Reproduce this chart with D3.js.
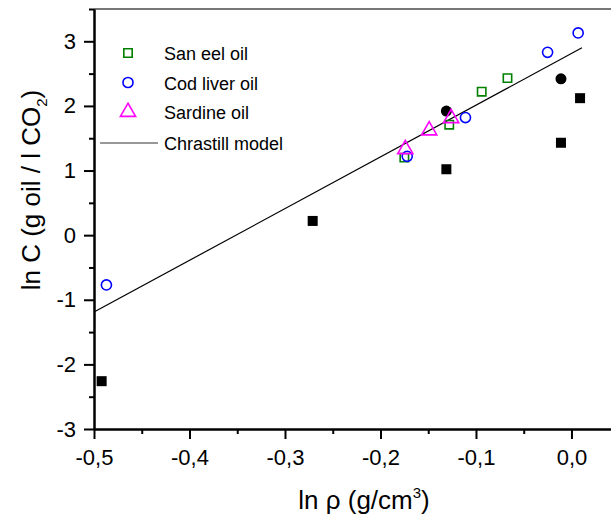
<!DOCTYPE html>
<html>
<head>
<meta charset="utf-8">
<script src="https://cdn.jsdelivr.net/npm/d3@7"></script>
<style>
  body { margin: 0; background: #fff; }
  text { font-family: Arial, "Liberation Sans", sans-serif; }
</style>
</head>
<body>
<div id="chart-area"></div>
<script>
var w = 611;
var h = 522;

// data (ln rho, ln C)
var sanEelX = [-0.175, -0.128, -0.094, -0.067];
var sanEelY = [1.20, 1.71, 2.22, 2.43];
var codX = [-0.487, -0.172, -0.111, -0.025, 0.007];
var codY = [-0.77, 1.22, 1.82, 2.83, 3.13];
var sardineX = [-0.174, -0.149, -0.126];
var sardineY = [1.33, 1.62, 1.81];
var blackSqX = [-0.492, -0.271, -0.131, -0.011, 0.009];
var blackSqY = [-2.26, 0.22, 1.02, 1.43, 2.12];
var blackDotX = [-0.131, -0.011];
var blackDotY = [1.92, 2.42];
var modelX = [-0.5, 0.011];
var modelY = [-1.19, 2.90];

var xTicks = [-0.5, -0.4, -0.3, -0.2, -0.1, 0.0];
var xMinor = [-0.45, -0.35, -0.25, -0.15, -0.05];
var yTicks = [-3, -2, -1, 0, 1, 2, 3];
var yMinor = [-2.5, -1.5, -0.5, 0.5, 1.5, 2.5, 3.5];

var legendNames = ["San eel oil", "Cod liver oil", "Sardine oil", "Chrastill model"];

var svg = d3.select('#chart-area').append('svg')
    .attr('width', w)
    .attr('height', h);

var x = d3.scaleLinear().domain([-0.5, 0.0414]).range([94, 611]);
var y = d3.scaleLinear().domain([-3, 3.5]).range([429, 9]);

var fmtX = function(d){ return (d < 0 ? "-" : "") + d3.format(".1f")(Math.abs(d)).replace(".", ","); };
var fmtY = function(d){ return (d < 0 ? "-" : "") + Math.abs(d); };

// top frame
svg.append('line')
    .attr('x1', x(-0.5)).attr('x2', x(0.0414))
    .attr('y1', y(3.5)).attr('y2', y(3.5))
    .attr('stroke', '#777').attr('stroke-width', 2);

// axes
var xAxis = svg.append('g')
    .attr('transform', 'translate(0,' + y(-3) + ')')
    .call(d3.axisBottom(x).tickValues(xTicks).tickSize(10).tickSizeOuter(0).tickPadding(10).tickFormat(fmtX));
var xAxisMinor = svg.append('g')
    .attr('transform', 'translate(0,' + y(-3) + ')')
    .call(d3.axisBottom(x).tickValues(xMinor).tickSize(5).tickSizeOuter(0).tickFormat(''));
var yAxis = svg.append('g')
    .attr('transform', 'translate(' + x(-0.5) + ',0)')
    .call(d3.axisLeft(y).tickValues(yTicks).tickSize(10).tickSizeOuter(0).tickPadding(8).tickFormat(fmtY));
var yAxisMinor = svg.append('g')
    .attr('transform', 'translate(' + x(-0.5) + ',0)')
    .call(d3.axisLeft(y).tickValues(yMinor).tickSize(5).tickSizeOuter(0).tickFormat(''));

svg.selectAll('.domain').attr('stroke', '#000').attr('stroke-width', 2);
svg.selectAll('.tick line').attr('stroke', '#000').attr('stroke-width', 2);
svg.selectAll('.tick text').attr('font-size', 22).attr('fill', '#000')
    .style('font-family', 'Arial, "Liberation Sans", sans-serif');

// axis titles
svg.append('text')
    .attr('x', 364)
    .attr('y', 509)
    .attr('text-anchor', 'middle')
    .attr('font-size', 26)
    .html('ln &#961; (g/cm<tspan dy="-11" font-size="15">3</tspan><tspan dy="11">)</tspan>');

svg.append('text')
    .attr('transform', 'translate(40,190) rotate(-90)')
    .attr('text-anchor', 'middle')
    .attr('font-size', 26)
    .html('ln C (g oil / l CO<tspan dy="7" font-size="15">2</tspan><tspan dy="-7">)</tspan>');

// Chrastill model line
var line = d3.line().x(function(d){ return x(d[0]); }).y(function(d){ return y(d[1]); });
svg.append('path')
    .datum(d3.zip(modelX, modelY))
    .attr('d', line)
    .attr('fill', 'none')
    .attr('stroke', '#000')
    .attr('stroke-width', 1.2);

// black filled points
svg.append('g').selectAll('rect')
    .data(d3.zip(blackSqX, blackSqY))
    .enter().append('rect')
    .attr('x', function(d){ return x(d[0]) - 5; })
    .attr('y', function(d){ return y(d[1]) - 5; })
    .attr('width', 10).attr('height', 10)
    .attr('fill', '#000');
svg.append('g').selectAll('circle')
    .data(d3.zip(blackDotX, blackDotY))
    .enter().append('circle')
    .attr('cx', function(d){ return x(d[0]); })
    .attr('cy', function(d){ return y(d[1]); })
    .attr('r', 5.5)
    .attr('fill', '#000');

var sq = d3.symbol().type(d3.symbolSquare).size(70);
var ci = d3.symbol().type(d3.symbolCircle).size(80);
var tri = d3.symbol().type(d3.symbolTriangle).size(100);

function drawSeries(xs, ys, sym, color){
    svg.append('g').selectAll('path')
        .data(d3.zip(xs, ys))
        .enter().append('path')
        .attr('transform', function(d){ return 'translate(' + x(d[0]) + ',' + y(d[1]) + ')'; })
        .attr('d', sym)
        .attr('fill', 'none')
        .attr('stroke', color)
        .attr('stroke-width', 1.6);
}
drawSeries(sanEelX, sanEelY, sq, '#008000');
drawSeries(codX, codY, ci, '#0000ff');
drawSeries(sardineX, sardineY, tri, '#ff00ff');

// legend
var legend = svg.append('g');
var legRows = [53, 82.5, 112, 143];
var legSyms = [sq, ci, tri];
var legColors = ['#008000', '#0000ff', '#ff00ff'];
legend.selectAll('path')
    .data(legSyms)
    .enter().append('path')
    .attr('transform', function(d, i){ return 'translate(128,' + legRows[i] + ')'; })
    .attr('d', function(d){ return d(); })
    .attr('fill', 'none')
    .attr('stroke', function(d, i){ return legColors[i]; })
    .attr('stroke-width', 1.6);
legend.append('line')
    .attr('x1', 100).attr('x2', 158)
    .attr('y1', legRows[3]).attr('y2', legRows[3])
    .attr('stroke', '#333').attr('stroke-width', 1.2);
legend.selectAll('text')
    .data(legendNames)
    .enter().append('text')
    .attr('x', 164)
    .attr('y', function(d, i){ return legRows[i] + 7; })
    .attr('font-size', 18)
    .text(function(d){ return d; });
</script>
</body>
</html>
